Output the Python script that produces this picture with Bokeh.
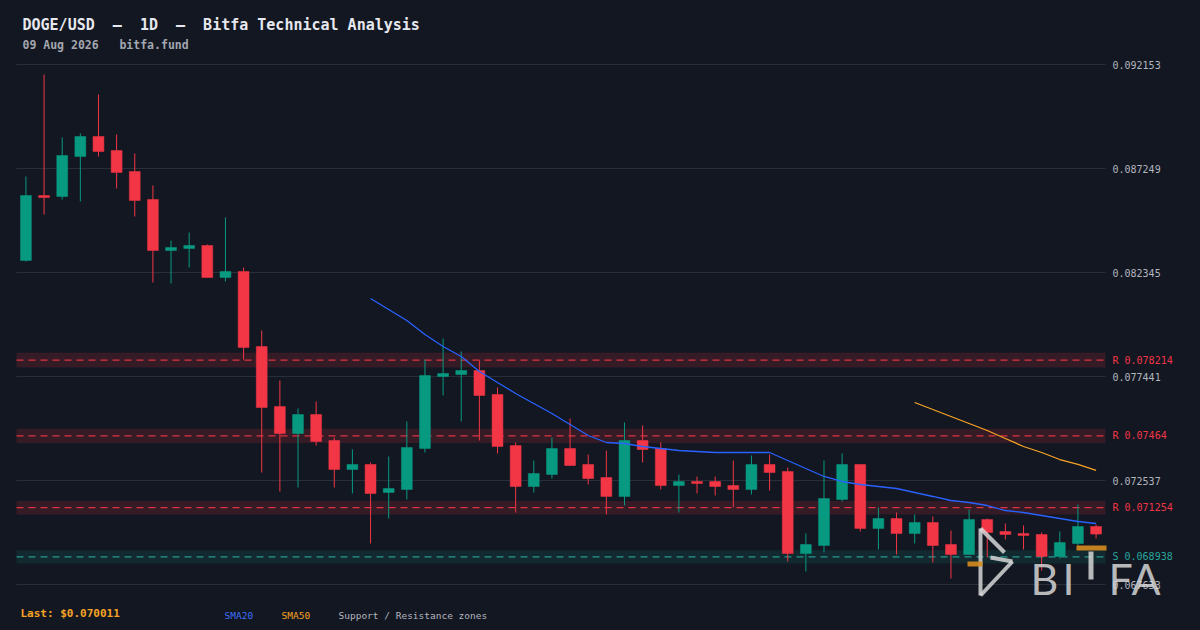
import re
from bokeh.plotting import figure
from bokeh.models import (Range1d, FixedTicker, PrintfTickFormatter, Label,
                          BoxAnnotation, PolyAnnotation)
from bokeh.embed import file_html
from bokeh.resources import INLINE

# ---------------- data ----------------
PAIR = "DOGE/USD"
TIMEFRAME = "1D"
SOURCE = "Bitfa Technical Analysis"
DATE = "09 Aug 2026"
SITE = "bitfa.fund"

OPEN = [0.082911, 0.085976, 0.085929, 0.087815, 0.088758, 0.088098, 0.087108, 0.085787, 0.083382, 0.083477,
        0.083618, 0.082109, 0.082392, 0.078856, 0.076026, 0.074753, 0.075649, 0.074423, 0.073056, 0.073292,
        0.071971, 0.072113, 0.074046, 0.077441, 0.077535, 0.077724, 0.076592, 0.074187, 0.072254, 0.072820,
        0.074046, 0.073292, 0.072679, 0.071783, 0.074423, 0.074046, 0.072301, 0.072490, 0.072490, 0.072301,
        0.072113, 0.073292, 0.072961, 0.069095, 0.069472, 0.071641, 0.073292, 0.070274, 0.070745, 0.070038,
        0.070557, 0.069519, 0.069048, 0.070698, 0.070132, 0.070038, 0.069991, 0.068953, 0.069566, 0.070368]
HIGH = [0.086872, 0.091682, 0.088711, 0.088900, 0.090739, 0.088852, 0.087956, 0.086448, 0.083854, 0.084231,
        0.083665, 0.084939, 0.082581, 0.079610, 0.077252, 0.075932, 0.076262, 0.074565, 0.073999, 0.073386,
        0.073669, 0.075319, 0.078243, 0.079233, 0.078620, 0.078196, 0.076922, 0.074329, 0.073480, 0.074565,
        0.075461, 0.073763, 0.073952, 0.075272, 0.075131, 0.074329, 0.072820, 0.072726, 0.072726, 0.073480,
        0.073716, 0.073763, 0.073150, 0.070038, 0.073480, 0.073810, 0.073292, 0.071264, 0.071028, 0.070934,
        0.070840, 0.070179, 0.071170, 0.070745, 0.070509, 0.070415, 0.070085, 0.070132, 0.071405, 0.070462]
LOW = [0.082864, 0.085080, 0.085787, 0.085693, 0.087815, 0.086306, 0.084986, 0.081874, 0.081826, 0.082581,
       0.082109, 0.081921, 0.078243, 0.072914, 0.072018, 0.072207, 0.074187, 0.072207, 0.071924, 0.069566,
       0.070745, 0.071641, 0.073857, 0.076545, 0.075319, 0.074423, 0.073810, 0.071028, 0.071971, 0.072631,
       0.073244, 0.072348, 0.070934, 0.071358, 0.073386, 0.072113, 0.071028, 0.071924, 0.071830, 0.071264,
       0.071877, 0.072066, 0.068718, 0.068246, 0.069142, 0.071547, 0.070132, 0.069284, 0.069048, 0.069566,
       0.068671, 0.067916, 0.069048, 0.068906, 0.069755, 0.069284, 0.068293, 0.068859, 0.069472, 0.069802]
CLOSE = [0.085976, 0.085882, 0.087862, 0.088758, 0.088051, 0.087061, 0.085740, 0.083382, 0.083524, 0.083618,
         0.082109, 0.082392, 0.078809, 0.075979, 0.074753, 0.075649, 0.074376, 0.073056, 0.073292, 0.071924,
         0.072160, 0.074093, 0.077488, 0.077583, 0.077724, 0.076545, 0.074140, 0.072254, 0.072867, 0.074046,
         0.073244, 0.072631, 0.071783, 0.074423, 0.073999, 0.072301, 0.072490, 0.072396, 0.072254, 0.072113,
         0.073292, 0.072914, 0.069095, 0.069519, 0.071688, 0.073292, 0.070274, 0.070745, 0.070038, 0.070557,
         0.069472, 0.069048, 0.070698, 0.070085, 0.069991, 0.069944, 0.068953, 0.069614, 0.070368, 0.070011]

SMA20_START = 19
SMA20 = [0.081119, 0.080600, 0.080082, 0.079422, 0.078856, 0.078384, 0.077677, 0.077158, 0.076639, 0.076168,
         0.075696, 0.075178, 0.074659, 0.074329, 0.074282, 0.074140, 0.074046, 0.073952, 0.073905, 0.073857,
         0.073857, 0.073857, 0.073857, 0.073480, 0.073103, 0.072726, 0.072490, 0.072348, 0.072254, 0.072160,
         0.071971, 0.071783, 0.071594, 0.071500, 0.071358, 0.071122, 0.071028, 0.070887, 0.070745, 0.070604,
         0.070509]
SMA50_START = 49
SMA50 = [0.076215, 0.075885, 0.075555, 0.075225, 0.074895, 0.074518, 0.074140, 0.073857, 0.073527, 0.073292,
         0.073009]

RESISTANCE = [0.078214, 0.07464, 0.071254]
SUPPORT = [0.068938]
Y_TICKS = [0.067633, 0.072537, 0.077441, 0.082345, 0.087249, 0.092153]

# ---------------- style / layout ----------------
W, H = 1200, 630
AREA_L, AREA_R, AREA_T, AREA_B = 16, 1105, 64, 584   # chart area in page pixels
BG = "#131722"
GRID = "#2a2e39"
UP = "#089981"
DOWN = "#f23645"
TEAL = "#26a69a"
BLUE = "#2962ff"
ORANGE = "#f7a325"
TEXT = "#b2b5be"
MONO = "DejaVu Sans Mono"
ZONE = 0.0045
EDGE = 0.52        # padding (in candle slots) at each end of the candle row

n = len(CLOSE)
idx = list(range(n))
colors = [UP if c >= o else DOWN for o, c in zip(OPEN, CLOSE)]
body_top = [max(o, c) for o, c in zip(OPEN, CLOSE)]
body_bot = [min(o, c) for o, c in zip(OPEN, CLOSE)]

# chart-area bounds in data units, then extend the ranges to the whole canvas
x0, x1 = -EDGE, n - 1 + EDGE
ux = (x1 - x0) / (AREA_R - AREA_L)
y0, y1 = Y_TICKS[0], Y_TICKS[-1]
uy = (y1 - y0) / (AREA_B - AREA_T)
xr = Range1d(x0 - AREA_L * ux, x1 + (W - AREA_R) * ux)
yr = Range1d(y0 - (H - AREA_B) * uy, y1 + AREA_T * uy)

p = figure(width=W, height=H, output_backend="svg", toolbar_location=None,
           x_range=xr, y_range=yr, x_axis_location=None, y_axis_location="right",
           min_border=0, background_fill_color=BG, border_fill_color=BG, outline_line_color=None)
p.grid.visible = False

ax = p.yaxis[0]
ax.fixed_location = x1
ax.ticker = FixedTicker(ticks=Y_TICKS)
ax.formatter = PrintfTickFormatter(format="%.6f")
ax.axis_line_color = None
ax.major_tick_line_color = None
ax.minor_tick_line_color = None
ax.major_tick_out = 0
ax.major_tick_in = 0
ax.major_label_standoff = 7
ax.major_label_text_color = TEXT
ax.major_label_text_font = MONO
ax.major_label_text_font_size = "10px"

# horizontal grid lines over the chart area
p.segment(x0=[x0] * len(Y_TICKS), x1=[x1] * len(Y_TICKS), y0=Y_TICKS, y1=Y_TICKS,
          line_color=GRID, line_width=1)

# support / resistance zones
p.quad(left=x0, right=x1, bottom=[r * (1 - ZONE) for r in RESISTANCE], top=[r * (1 + ZONE) for r in RESISTANCE],
       fill_color=DOWN, fill_alpha=0.15, line_alpha=0)
p.quad(left=x0, right=x1, bottom=[s * (1 - ZONE) for s in SUPPORT], top=[s * (1 + ZONE) for s in SUPPORT],
       fill_color=UP, fill_alpha=0.14, line_alpha=0)
p.segment(x0=x0, x1=x1, y0=RESISTANCE, y1=RESISTANCE, line_color=DOWN, line_width=1.3,
          line_dash="7 5", line_alpha=0.9)
p.segment(x0=x0, x1=x1, y0=SUPPORT, y1=SUPPORT, line_color=TEAL, line_width=1.3,
          line_dash="7 5", line_alpha=0.9)

# candles
p.segment(x0=idx, y0=LOW, x1=idx, y1=HIGH, line_color=colors, line_width=1)
p.vbar(x=idx, width=0.6, top=body_top, bottom=body_bot, fill_color=colors, line_color=colors, line_width=0.5)

# moving averages
p.line(idx[SMA20_START:SMA20_START + len(SMA20)], SMA20, line_color=BLUE, line_width=1.3)
p.line(idx[SMA50_START:SMA50_START + len(SMA50)], SMA50, line_color=ORANGE, line_width=1.3)

# zone labels
for r in RESISTANCE:
    p.add_layout(Label(x=1112, x_units="screen", y=r, y_units="data", text=f"R {r}",
                       text_color=DOWN, text_font=MONO, text_font_size="10px", text_baseline="middle"))
for s in SUPPORT:
    p.add_layout(Label(x=1112, x_units="screen", y=s, y_units="data", text=f"S {s}",
                       text_color=TEAL, text_font=MONO, text_font_size="10px", text_baseline="middle"))


def keep_spaces(s):
    # runs of spaces would collapse in SVG text; keep them visible
    return re.sub(r" {2,}", lambda m: "\u00a0" * len(m.group()), s)


def lab(text, px, py, color, size, bold=False, font=MONO):
    p.add_layout(Label(x=px, y=H - py, x_units="screen", y_units="screen", text=keep_spaces(text),
                       text_color=color, text_font=font, text_font_size=size,
                       text_font_style="bold" if bold else "normal", text_baseline="middle"))


lab(f"{PAIR}  \u2014  {TIMEFRAME}  \u2014  {SOURCE}", 22, 24, "#e6e8ee", "15px", bold=True)
lab(f"{DATE}   {SITE}", 22, 44, "#a3a6af", "11.5px", bold=True)
lab(f"Last: ${CLOSE[-1]:.6f}", 20, 613, ORANGE, "11px", bold=True)
lab("SMA20", 224, 615, "#3d6df5", "9.5px")
lab("SMA50", 281, 615, ORANGE, "9.5px")
lab("Support / Resistance zones", 338, 615, TEXT, "9.5px")

# ---------------- watermark logo ----------------
LOGO = "#d6d6d6"
for (xa, ya), (xb, yb) in [((980, 528), (980, 595)), ((980, 528), (1004, 552)),
                           ((990, 557), (1012, 561)), ((1012, 561), (980, 595))]:
    p.add_layout(PolyAnnotation(xs=[xa, xb], ys=[H - ya, H - yb], xs_units="screen", ys_units="screen",
                                fill_alpha=0, line_color=LOGO, line_alpha=0.85, line_width=4, level="overlay"))
for ch, px in [("B", 1030), ("I", 1062), ("F", 1108), ("A", 1131)]:
    p.add_layout(Label(x=px, y=H - 578, x_units="screen", y_units="screen", text=ch,
                       text_color=LOGO, text_alpha=0.85, text_font="Lato", text_font_size="43px",
                       text_baseline="alphabetic", level="overlay"))


def box(l, r_, t, b, color, alpha):
    p.add_layout(BoxAnnotation(left=l, right=r_, top=H - t, bottom=H - b,
                               left_units="screen", right_units="screen", top_units="screen",
                               bottom_units="screen", fill_color=color, fill_alpha=alpha,
                               line_alpha=0, level="overlay"))


box(1088, 1093, 551, 579, LOGO, 0.85)
box(1076, 1106, 545, 550, "#d68c1e", 0.9)
box(967, 982, 561, 566, "#d68c1e", 0.9)

html = file_html(p, INLINE, title="DOGE/USD - Bitfa Technical Analysis")
html = html.replace("<head>", "<head><style>html,body{background:#131722;}</style>", 1)
open("out.html", "w").write(html)
